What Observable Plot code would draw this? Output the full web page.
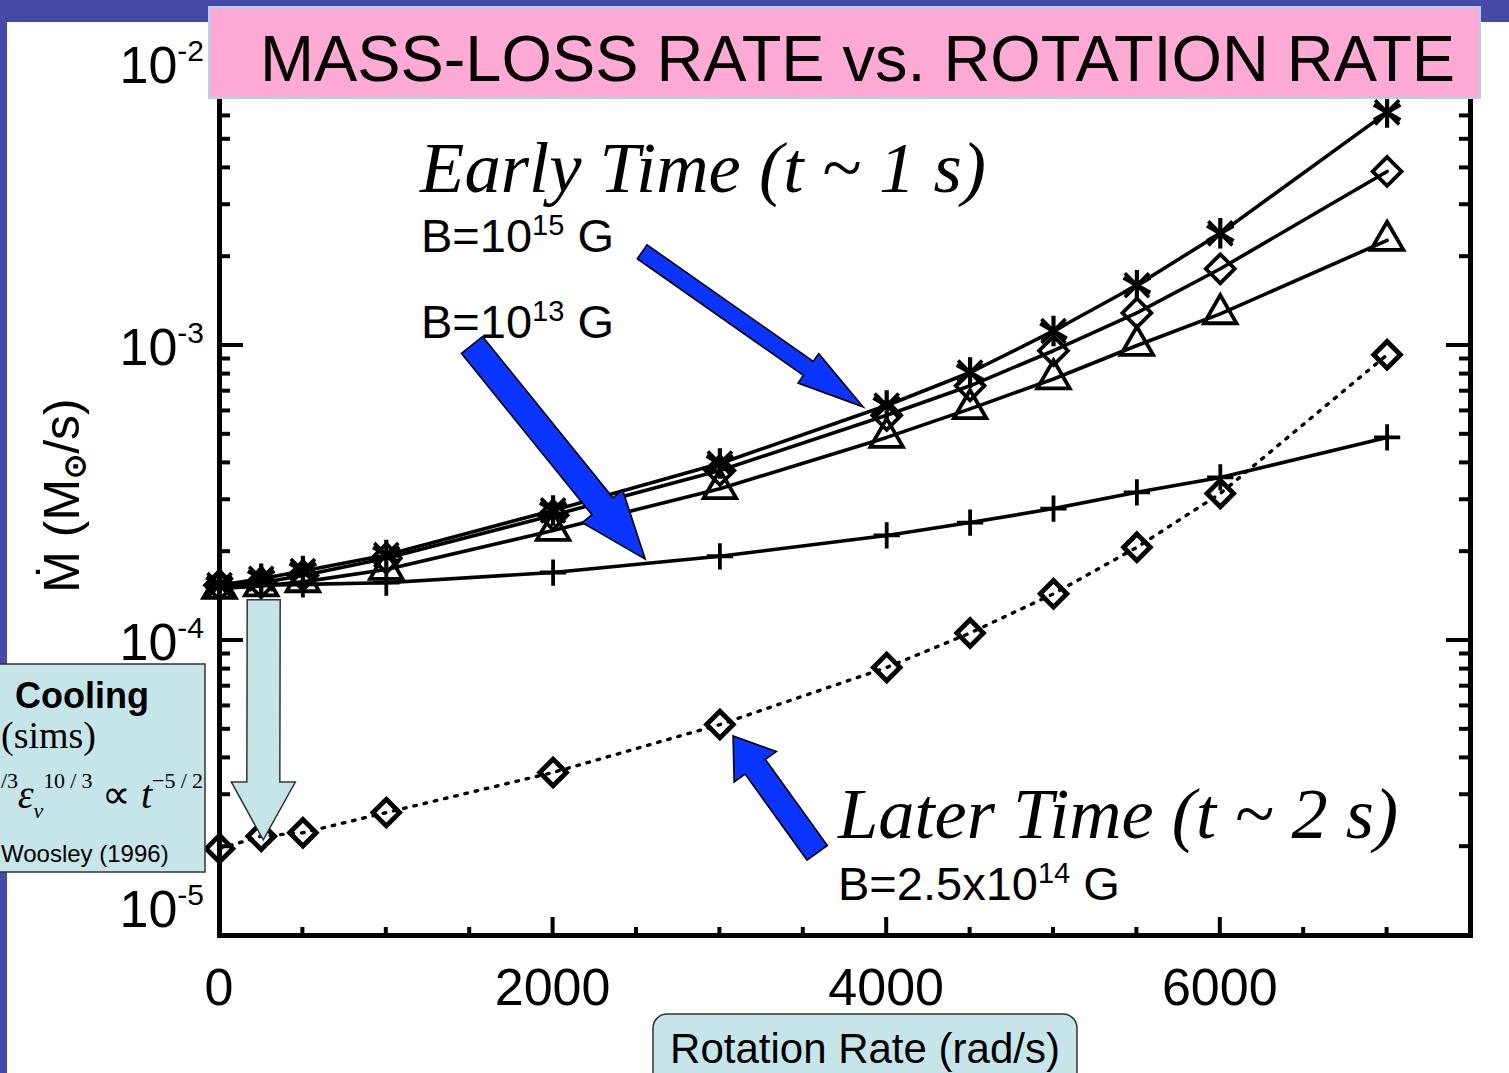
<!DOCTYPE html>
<html><head><meta charset="utf-8">
<script src="https://cdn.jsdelivr.net/npm/d3@7"></script>
<script src="https://cdn.jsdelivr.net/npm/@observablehq/plot@0.6"></script>
<style>
html,body{margin:0;padding:0;background:#fff;overflow:hidden;}
#wrap{position:relative;width:1509px;height:1073px;overflow:hidden;}
svg{display:block;}
</style></head><body><div id="wrap"></div>
<script>
// ---- data ----
const rotation = [0, 250, 500, 1000, 2000, 3000, 4000, 4500, 5000, 5500, 6000, 7000];
const earlyStar     = [1.54e-4, 1.62e-4, 1.72e-4, 1.95e-4, 2.76e-4, 3.98e-4, 6.26e-4, 8.1e-4, 1.12e-3, 1.6e-3, 2.4e-3, 6.17e-3];
const earlyDiamond  = [1.54e-4, 1.57e-4, 1.66e-4, 1.90e-4, 2.66e-4, 3.77e-4, 5.8e-4, 7.3e-4, 9.6e-4, 1.29e-3, 1.82e-3, 3.89e-3];
const earlyTriangle = [1.50e-4, 1.53e-4, 1.58e-4, 1.74e-4, 2.36e-4, 3.27e-4, 4.88e-4, 6.1e-4, 7.7e-4, 1.0e-3, 1.28e-3, 2.27e-3];
const earlyPlus     = [1.53e-4, 1.54e-4, 1.55e-4, 1.57e-4, 1.70e-4, 1.93e-4, 2.27e-4, 2.51e-4, 2.8e-4, 3.18e-4, 3.57e-4, 4.88e-4];
const laterDiamond  = [1.97e-5, 2.17e-5, 2.23e-5, 2.61e-5, 3.57e-5, 5.19e-5, 8.1e-5, 1.06e-4, 1.44e-4, 2.07e-4, 3.15e-4, 9.3e-4];

const xMajorTicks = [0, 2000, 4000, 6000];
const xTickLabels = ["0", "2000", "4000", "6000"];
const xMinorStep = 500;
const yMajorTicks = [1e-5, 1e-4, 1e-3, 1e-2];
const yTickBase = ["10", "10", "10", "10"];
const yTickExp = ["-5", "-4", "-3", "-2"];

const titleText = "MASS-LOSS RATE vs. ROTATION RATE";
const xTitle = "Rotation Rate (rad/s)";

// ---- table ----
const series = [
  {name: "early B=1e15 *", values: earlyStar, symbol: "asterisk", r: 14.5, dashed: false},
  {name: "early diamond", values: earlyDiamond, symbol: "diamond2", r: 13, dashed: false},
  {name: "early triangle", values: earlyTriangle, symbol: "triangle2", r: 15.5, dashed: false},
  {name: "early B=1e13 +", values: earlyPlus, symbol: "plus", r: 8.5, dashed: false},
  {name: "later B=2.5e14", values: laterDiamond, symbol: "diamond2", r: 12, dashed: true}
];
const table = series.flatMap(s => rotation.map((x, i) => ({x, y: s.values[i], series: s.name})));

const W = 1509, H = 1073;
const marks = [];
for (const s of series) {
  const rows = table.filter(d => d.series === s.name);
  marks.push(Plot.line(rows, {x: "x", y: "y", stroke: "#000",
    strokeWidth: s.dashed ? 3.4 : 3.6,
    strokeDasharray: s.dashed ? "2.5,8" : null}));
}
for (const s of series) {
  const rows = table.filter(d => d.series === s.name);
  marks.push(Plot.dot(rows, {x: "x", y: "y", symbol: s.symbol, r: s.r,
    stroke: "#000", fill: "none", strokeWidth: s.dashed ? 4.8 : (s.symbol === "asterisk" ? 4.2 : 3.8)}));
}
// extra diagonal arms make the IDL-style 8-arm asterisk
marks.push(Plot.dot(table.filter(d => d.series === series[0].name), {x: "x", y: "y", symbol: "times", r: 11,
  stroke: "#000", strokeWidth: 3.6}));
marks.push(Plot.frame({stroke: "#000", strokeWidth: 5}));

const plot = Plot.plot({
  width: W, height: H,
  marginLeft: 219, marginRight: 39, marginTop: 50, marginBottom: 138,
  x: {domain: [0, 7500], axis: null},
  y: {type: "log", domain: [1e-5, 1e-2], axis: null},
  style: {background: "transparent", overflow: "visible"},
  marks
});
document.getElementById("wrap").appendChild(plot);

const xs = plot.scale("x"), ys = plot.scale("y");
const X = v => xs.apply(v), Y = v => ys.apply(v);
const svg = d3.select(plot);
const SANS = "'Liberation Sans', Arial, Helvetica, sans-serif";
const SERIF = "'Liberation Serif', 'Times New Roman', serif";

// slide background strips (behind everything)
const bg = svg.insert("g", ":first-child");
bg.append("rect").attr("x", 0).attr("y", 0).attr("width", W).attr("height", H).attr("fill", "#fff");
bg.append("rect").attr("x", 0).attr("y", 0).attr("width", W).attr("height", 22).attr("fill", "#4549a8");
bg.append("rect").attr("x", 0).attr("y", 0).attr("width", 7).attr("height", H).attr("fill", "#4549a8");

// ticks
const [xa, xb] = [X(0), X(7500)];
const [yb, yt] = [Y(1e-5), Y(1e-2)];
const tg = svg.append("g").attr("stroke", "#000").attr("stroke-width", 4);
for (let v = 0; v <= 7500; v += xMinorStep) {
  const len = xMajorTicks.includes(v) ? 18 : 8;
  tg.append("line").attr("x1", X(v)).attr("x2", X(v)).attr("y1", yb).attr("y2", yb - len);
  tg.append("line").attr("x1", X(v)).attr("x2", X(v)).attr("y1", yt).attr("y2", yt + len);
}
const yMinor = [];
for (const d of yMajorTicks.slice(0, 3)) for (let k = 2; k <= 9; k++) yMinor.push(d * k);
for (const v of yMajorTicks) {
  tg.append("line").attr("x1", xa).attr("x2", xa + 24).attr("y1", Y(v)).attr("y2", Y(v));
  tg.append("line").attr("x1", xb).attr("x2", xb - 24).attr("y1", Y(v)).attr("y2", Y(v));
}
for (const v of yMinor) {
  tg.append("line").attr("x1", xa).attr("x2", xa + 11).attr("y1", Y(v)).attr("y2", Y(v));
  tg.append("line").attr("x1", xb).attr("x2", xb - 11).attr("y1", Y(v)).attr("y2", Y(v));
}

// text layer with explicit start anchoring (Plot sets middle on the svg root)
const txt = svg.append("g").attr("text-anchor", "start").attr("fill", "#000");

// x tick labels
xMajorTicks.forEach((v, i) => {
  txt.append("text").attr("x", X(v)).attr("y", yb + 70).attr("text-anchor", "middle")
    .attr("font-family", SANS).attr("font-size", 52).text(xTickLabels[i]);
});
// y tick labels (10 with superscript exponent)
const yLabelShift = [-8, 20, 20, 33];
yMajorTicks.forEach((v, i) => {
  const t = txt.append("text").attr("x", 204).attr("y", Y(v) + yLabelShift[i]).attr("text-anchor", "end")
    .attr("font-family", SANS).attr("font-size", 52);
  t.append("tspan").text(yTickBase[i]);
  t.append("tspan").attr("font-size", 30).attr("dy", -22).text(yTickExp[i]);
});

// y axis title
const yt_ = txt.append("text").attr("transform", `translate(79,${(Y(1e-3)+Y(1e-4))/2 + 3}) rotate(-90)`)
  .attr("text-anchor", "middle").attr("font-family", SANS).attr("font-size", 50);
yt_.append("tspan").text("Ṁ (M");
yt_.append("tspan").attr("font-size", 30).attr("dy", 6).attr("font-weight", "bold").text("⊙");
yt_.append("tspan").attr("dy", -6).text("/s)");

// arrow helper
function arrowPath(x0, y0, x1, y1, sw, hw, hl) {
  const dx = x1 - x0, dy = y1 - y0, L = Math.hypot(dx, dy);
  const ux = dx / L, uy = dy / L, nx = -uy, ny = ux;
  const bx = x1 - ux * hl, by = y1 - uy * hl;
  const p = [
    [x0 + nx * sw / 2, y0 + ny * sw / 2],
    [bx + nx * sw / 2, by + ny * sw / 2],
    [bx + nx * hw / 2, by + ny * hw / 2],
    [x1, y1],
    [bx - nx * hw / 2, by - ny * hw / 2],
    [bx - nx * sw / 2, by - ny * sw / 2],
    [x0 - nx * sw / 2, y0 - ny * sw / 2]
  ];
  return "M" + p.map(q => q.join(",")).join("L") + "Z";
}
const ag = svg.append("g");
// light-blue cooling arrow
ag.append("path").attr("d", arrowPath(X(268), Y(1.37e-4), X(265), Y(2.1e-5), 33, 64, 58))
  .attr("fill", "#c5e5e8").attr("stroke", "#333").attr("stroke-width", 1.5);
// blue arrows (anchored in data coordinates)
const blueArrows = [
  {from: [2537, 2.07e-3], to: [3862, 6.17e-4], sw: 17, hw: 36, hl: 67},
  {from: [1517, 1.0e-3], to: [2555, 1.88e-4], sw: 27, hw: 52, hl: 68},
  {from: [3586, 1.9e-5], to: [3082, 4.73e-5], sw: 25, hw: 52, hl: 38}
];
for (const a of blueArrows) {
  ag.append("path").attr("d", arrowPath(X(a.from[0]), Y(a.from[1]), X(a.to[0]), Y(a.to[1]), a.sw, a.hw, a.hl))
    .attr("fill", "#0a34ff").attr("stroke", "#000").attr("stroke-width", 1.6).attr("stroke-linejoin", "miter");
}

// annotation texts
const ann = svg.append("g").attr("text-anchor", "start").attr("fill", "#000");
function bText(x, y, base, exp, tail) {
  const t = ann.append("text").attr("x", x).attr("y", y).attr("font-family", SANS).attr("font-size", 47);
  t.append("tspan").text(base);
  t.append("tspan").attr("font-size", 29).attr("dy", -17).text(exp);
  t.append("tspan").attr("dy", 17).text(tail);
}
ann.append("text").attr("x", 420).attr("y", 192).attr("font-family", SERIF).attr("font-style", "italic")
  .attr("font-size", 72).attr("textLength", 566).attr("lengthAdjust", "spacingAndGlyphs").text("Early Time (t ~ 1 s)");
bText(421, 252, "B=10", "15", " G");
bText(421, 338, "B=10", "13", " G");
ann.append("text").attr("x", 838).attr("y", 838).attr("font-family", SERIF).attr("font-style", "italic")
  .attr("font-size", 72).attr("textLength", 560).attr("lengthAdjust", "spacingAndGlyphs").text("Later Time (t ~ 2 s)");
bText(838, 900, "B=2.5x10", "14", " G");

// cooling box (cut by the slide's left edge)
const cg = svg.append("g").attr("text-anchor", "start").attr("fill", "#000");
cg.append("rect").attr("x", -10).attr("y", 664).attr("width", 215).attr("height", 208)
  .attr("fill", "#c5e5e8").attr("stroke", "#333").attr("stroke-width", 1.5);
cg.append("text").attr("x", 15).attr("y", 708).attr("font-family", SANS)
  .attr("font-weight", "bold").attr("font-size", 36).text("Cooling");
cg.append("text").attr("x", 1).attr("y", 748).attr("font-family", SERIF)
  .attr("font-size", 38).text("(sims)");
const ft = cg.append("text").attr("x", 1).attr("y", 808).attr("font-family", SERIF).attr("font-size", 40)
  .attr("textLength", 202).attr("lengthAdjust", "spacing");
ft.append("tspan").attr("font-size", 22).attr("dy", -20).text("/3");
ft.append("tspan").attr("font-style", "italic").attr("dy", 20).text("ε");
ft.append("tspan").attr("font-size", 22).attr("font-style", "italic").attr("dy", 10).text("ν");
ft.append("tspan").attr("font-size", 22).attr("dy", -30).text("10 / 3");
ft.append("tspan").attr("dy", 20).text(" ∝ ");
ft.append("tspan").attr("font-style", "italic").text("t");
ft.append("tspan").attr("font-size", 22).attr("dy", -20).text("−5 / 2");
cg.append("text").attr("x", 1).attr("y", 862).attr("font-family", SANS)
  .attr("font-size", 24).text("Woosley (1996)");

// x-axis title box
const xg = svg.append("g");
xg.append("rect").attr("x", 653).attr("y", 1014).attr("width", 424).attr("height", 90).attr("rx", 14)
  .attr("fill", "#c5e5e8").attr("stroke", "#333").attr("stroke-width", 1.5);
xg.append("text").attr("x", 865).attr("y", 1063).attr("text-anchor", "middle").attr("font-family", SANS)
  .attr("font-size", 42).attr("fill", "#000").text(xTitle);

// title box
const hg = svg.append("g");
hg.append("rect").attr("x", 209).attr("y", 7).attr("width", 1271).attr("height", 91)
  .attr("fill", "#ffaad4").attr("stroke", "#a9d3f2").attr("stroke-width", 2);
hg.append("text").attr("x", 260).attr("y", 81).attr("text-anchor", "start").attr("font-family", SANS)
  .attr("font-size", 65).attr("textLength", 1195).attr("lengthAdjust", "spacingAndGlyphs")
  .attr("fill", "#000").text(titleText);
</script></body></html>
